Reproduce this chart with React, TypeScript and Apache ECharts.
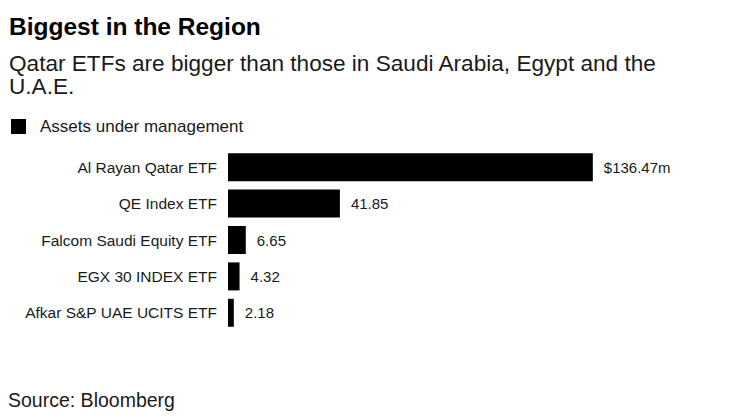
import React, { useEffect, useRef } from "react";
import * as echarts from "echarts";

const categories = [
  "Al Rayan Qatar ETF",
  "QE Index ETF",
  "Falcom Saudi Equity ETF",
  "EGX 30 INDEX ETF",
  "Afkar S&P UAE UCITS ETF",
];
const values = [136.47, 41.85, 6.65, 4.32, 2.18];
const valueLabels = ["$136.47m", "41.85", "6.65", "4.32", "2.18"];
const seriesName = "Assets under management";

const FONT = "Liberation Sans, Arial, sans-serif";

export default function App() {
  const ref = useRef<HTMLDivElement>(null);
  useEffect(() => {
    if (!ref.current) return;
    const chart = echarts.init(ref.current, undefined, { renderer: "svg" });
    chart.setOption({
      animation: false,
      backgroundColor: "#ffffff",
      textStyle: { fontFamily: FONT },
      graphic: [
        {
          type: "text",
          left: 9,
          top: 14,
          style: {
            text: "Biggest in the Region",
            font: `bold 24.5px ${FONT}`,
            lineHeight: 25,
            fill: "#000",
          },
        },
        {
          type: "text",
          left: 9,
          top: 52,
          style: {
            text: "Qatar ETFs are bigger than those in Saudi Arabia, Egypt and the\nU.A.E.",
            font: `22.6px ${FONT}`,
            lineHeight: 23,
            fill: "#1a1a1a",
          },
        },
        {
          type: "text",
          left: 8,
          top: 390,
          style: {
            text: "Source: Bloomberg",
            font: `19.5px ${FONT}`,
            lineHeight: 20,
            fill: "#1a1a1a",
          },
        },
      ],
      legend: {
        left: 11,
        top: 118,
        padding: 0,
        icon: "rect",
        itemWidth: 15,
        itemHeight: 15,
        selectedMode: false,
        data: [seriesName],
        textStyle: {
          fontFamily: FONT,
          fontSize: 17,
          color: "#1a1a1a",
          padding: [0, 0, 0, 9],
        },
      },
      grid: { left: 228, top: 149, width: 401, height: 182, containLabel: false },
      xAxis: {
        type: "value",
        min: 0,
        max: 150,
        show: false,
      },
      yAxis: {
        type: "category",
        data: categories,
        inverse: true,
        axisLine: { show: false },
        axisTick: { show: false },
        axisLabel: {
          fontFamily: FONT,
          fontSize: 15.5,
          color: "#1a1a1a",
          margin: 11,
        },
      },
      series: [
        {
          name: seriesName,
          type: "bar",
          data: values,
          barWidth: 28,
          itemStyle: { color: "#000000" },
          label: {
            show: true,
            position: "right",
            distance: 11,
            fontFamily: FONT,
            fontSize: 15,
            color: "#1a1a1a",
            formatter: (p: any) => valueLabels[p.dataIndex],
          },
        },
      ],
    });
    return () => chart.dispose();
  }, []);
  return <div ref={ref} style={{ width: 750, height: 418, position: "absolute", left: 0, top: 0 }} />;
}
